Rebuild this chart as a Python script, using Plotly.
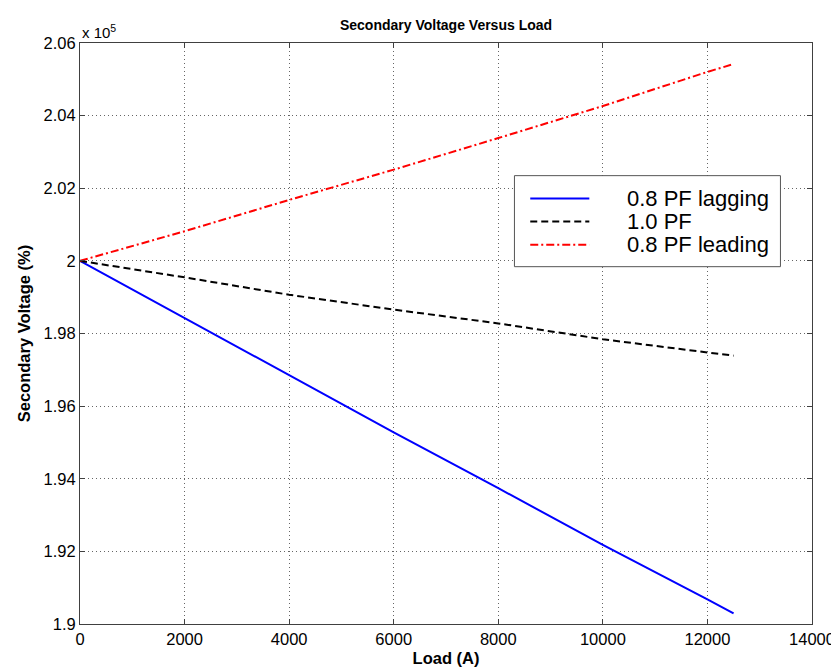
import plotly.graph_objects as go

# load current (A) and secondary voltage (V)
load = [0, 2000, 4000, 6000, 8000, 10000, 12000, 12500]
v_lagging = [200000, 198420, 196840, 195280, 193740, 192180, 190680, 190290]
v_unity = [200000, 199546, 199067, 198658, 198278, 197842, 197478, 197390]
v_leading = [200000, 200816, 201679, 202512, 203382, 204264, 205205, 205420]

series_names = ["0.8 PF lagging", "1.0 PF", "0.8 PF leading"]
series_colors = ["#0000ff", "#000000", "#ff0000"]
series_dash = ["solid", "7px,4px", "8px,3px,2px,3px"]

x_ticks = [0, 2000, 4000, 6000, 8000, 10000, 12000, 14000]
y_ticks = [190000, 192000, 194000, 196000, 198000, 200000, 202000, 204000, 206000]
y_ticktext = ["1.9", "1.92", "1.94", "1.96", "1.98", "2", "2.02", "2.04", "2.06"]

font = "Liberation Sans, Arial, Helvetica, sans-serif"

fig = go.Figure()
for vals, name, col, dash in zip([v_lagging, v_unity, v_leading], series_names, series_colors, series_dash):
    fig.add_trace(go.Scatter(x=load, y=vals, mode="lines", name=name,
                             line=dict(color=col, width=2, dash=dash)))

axis_common = dict(
    showline=True, linecolor="#404040", linewidth=1, mirror="ticks",
    ticks="inside", ticklen=5, tickcolor="#404040",
    showgrid=True, gridcolor="#666666", gridwidth=1, griddash="1px,3px",
    zeroline=False, tickfont=dict(family=font, size=16.5, color="black"),
)

fig.update_xaxes(range=[0, 14000], tickvals=x_ticks, ticktext=[str(t) for t in x_ticks],
                 title=dict(text="<b>Load (A)</b>", font=dict(family=font, size=16.5, color="black"),
                            standoff=5),
                 **axis_common)
fig.update_yaxes(range=[190000, 206000], tickvals=y_ticks, ticktext=y_ticktext,
                 title=dict(text="<b>Secondary Voltage (%)</b>", font=dict(family=font, size=16.5, color="black"),
                            standoff=8),
                 **axis_common)

# legend box drawn by hand so its size and spacing follow the original
box = dict(x0=0.5935, x1=0.9569, y0=0.6150, y1=0.7717)
rows_y = [0.7322, 0.6928, 0.6528]
shapes = [dict(type="rect", xref="paper", yref="paper", fillcolor="white",
               line=dict(color="#555555", width=1), layer="above", **box)]
annotations = []
for ry, name, col, dash in zip(rows_y, series_names, series_colors, series_dash):
    shapes.append(dict(type="line", xref="paper", yref="paper", x0=0.6151, x1=0.6958,
                       y0=ry, y1=ry, line=dict(color=col, width=2, dash=dash), layer="above"))
    annotations.append(dict(text=name, xref="paper", yref="paper", x=0.7443, y=ry,
                            xanchor="left", yanchor="middle", showarrow=False,
                            font=dict(family=font, size=22, color="black")))

annotations.append(dict(text="x 10<sup>5</sup>", xref="paper", yref="paper", x=0, y=1,
                        xanchor="left", yanchor="bottom", showarrow=False, yshift=0,
                        font=dict(family=font, size=15, color="black")))

fig.update_layout(
    width=839, height=668,
    margin=dict(l=72, r=24, t=35, b=46),
    paper_bgcolor="white", plot_bgcolor="white",
    title=dict(text="<b>Secondary Voltage Versus Load</b>", x=0.5, xanchor="center",
               xref="paper", y=0.975, yanchor="middle",
               font=dict(family=font, size=14, color="black")),
    showlegend=False,
    shapes=shapes,
    annotations=annotations,
)

fig.write_html("out.html")
